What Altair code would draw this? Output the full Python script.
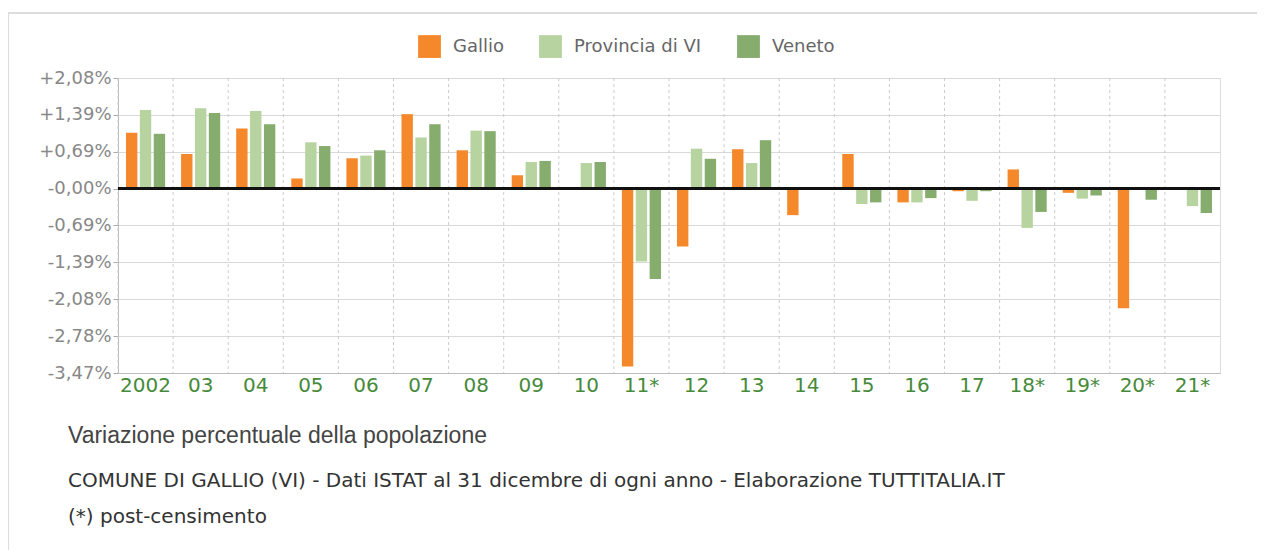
import altair as alt
import pandas as pd

years = ["2002", "03", "04", "05", "06", "07", "08", "09", "10", "11*",
         "12", "13", "14", "15", "16", "17", "18*", "19*", "20*", "21*"]
series_names = ["Gallio", "Provincia di VI", "Veneto"]
gallio = [1.05, 0.65, 1.13, 0.19, 0.57, 1.40, 0.72, 0.25, 0.0, -3.35,
          -1.09, 0.74, -0.50, 0.65, -0.26, -0.05, 0.36, -0.08, -2.25, 0.0]
provincia = [1.48, 1.51, 1.46, 0.87, 0.62, 0.96, 1.09, 0.50, 0.48, -1.37,
             0.75, 0.48, 0.0, -0.29, -0.26, -0.23, -0.74, -0.19, 0.0, -0.33]
veneto = [1.03, 1.42, 1.21, 0.80, 0.72, 1.21, 1.08, 0.52, 0.50, -1.70,
          0.56, 0.91, 0.0, -0.26, -0.18, -0.05, -0.44, -0.13, -0.21, -0.46]
y_ticks = [-3.47, -2.78, -2.08, -1.39, -0.69, 0.0, 0.69, 1.39, 2.08]
colors = ["#F5882A", "#B7D3A0", "#86AC6E"]
title_text = "Variazione percentuale della popolazione"
subtitle_lines = ["COMUNE DI GALLIO (VI) - Dati ISTAT al 31 dicembre di ogni anno - Elaborazione TUTTITALIA.IT",
                  "(*) post-censimento"]

rows = []
for name, vals in zip(series_names, [gallio, provincia, veneto]):
    for yr, v in zip(years, vals):
        rows.append({"anno": yr, "serie": name, "valore": v})
df = pd.DataFrame(rows)
df_years = pd.DataFrame({"anno": years})
df_one = pd.DataFrame({"t": [title_text], "s1": [subtitle_lines[0]], "s2": [subtitle_lines[1]]})

FONT = "Liberation Sans"
WFONT = "DejaVu Sans"

x_enc = alt.X("anno:N", sort=years,
              scale=alt.Scale(paddingInner=0.29, paddingOuter=0.145),
              axis=alt.Axis(title=None, labelAngle=0, labelColor="#468a3a",
                            labelFontSize=20, labelFont=WFONT, tickSize=0,
                            labelPadding=2, domainColor="#bbbbbb", grid=False))

label_expr = ("datum.value > 0.001 ? '+' + replace(format(datum.value, '.2f'), '.', ',') + '%' : "
              "(datum.value > -0.001 ? '-0,00%' : '-' + replace(format(abs(datum.value), '.2f'), '.', ',') + '%')")

y_enc = alt.Y("valore:Q",
              scale=alt.Scale(domain=[-3.47, 2.08], nice=False, zero=False),
              axis=alt.Axis(title=None, values=y_ticks, tickCount=20, labelExpr=label_expr,
                            labelColor="#888888", labelFontSize=18, labelFont=WFONT,
                            tickSize=5, tickColor="#aaaaaa", labelPadding=2,
                            labelOverlap=False,
                            domainColor="#bbbbbb", gridColor="#d9d9d9"))

bars = alt.Chart(df).mark_bar().encode(
    x=x_enc,
    xOffset=alt.XOffset("serie:N", sort=series_names,
                        scale=alt.Scale(paddingInner=0.18)),
    y=y_enc,
    color=alt.Color("serie:N", sort=series_names,
                    scale=alt.Scale(domain=series_names, range=colors),
                    legend=alt.Legend(title=None, orient="none", legendX=300, legendY=-43,
                                      direction="horizontal",
                                      symbolType="square", symbolSize=520,
                                      symbolStrokeWidth=0, labelFontSize=18,
                                      labelFont=WFONT, labelColor="#666666",
                                      columnPadding=35, labelOffset=12)),
)

vgrid = alt.Chart(df_years).mark_rule(color="#cccccc", strokeDash=[3, 3], strokeWidth=1).encode(
    x=alt.X("anno:N", sort=years, bandPosition=0,
            scale=alt.Scale(paddingInner=0, paddingOuter=0), axis=None)
)

zero = alt.Chart(df_years).mark_rule(color="#111111", strokeWidth=2).encode(
    y=alt.datum(0)
)

frame_left = alt.Chart(df_one).mark_rule(color="#dddddd", strokeWidth=2).encode(
    x=alt.value(-110), y=alt.value(-65), y2=alt.value(476)
)
frame_top = alt.Chart(df_one).mark_rule(color="#dddddd", strokeWidth=2).encode(
    x=alt.value(-110), x2=alt.value(1147), y=alt.value(-65)
)

title_mark = alt.Chart(df_one).mark_text(
    align="left", baseline="middle", font=FONT, fontSize=23, color="#444444"
).encode(text="t:N", x=alt.value(-50), y=alt.value(358))

sub1 = alt.Chart(df_one).mark_text(
    align="left", baseline="middle", font=WFONT, fontSize=20, color="#333333"
).encode(text="s1:N", x=alt.value(-50), y=alt.value(403))

sub2 = alt.Chart(df_one).mark_text(
    align="left", baseline="middle", font=WFONT, fontSize=20, color="#333333"
).encode(text="s2:N", x=alt.value(-50), y=alt.value(439))

chart = alt.layer(vgrid, bars, zero, frame_left, frame_top, title_mark, sub1, sub2).resolve_scale(
    x="independent"
).properties(
    width=1102, height=295,
    autosize=alt.AutoSizeParams(type="none"),
    padding={"left": 110, "top": 70, "right": 37, "bottom": 177},
).configure_view(stroke="#cccccc", strokeDash=[3, 3]).configure(background="white")

chart.save("out.html", embed_options={"renderer": "svg", "actions": False})
